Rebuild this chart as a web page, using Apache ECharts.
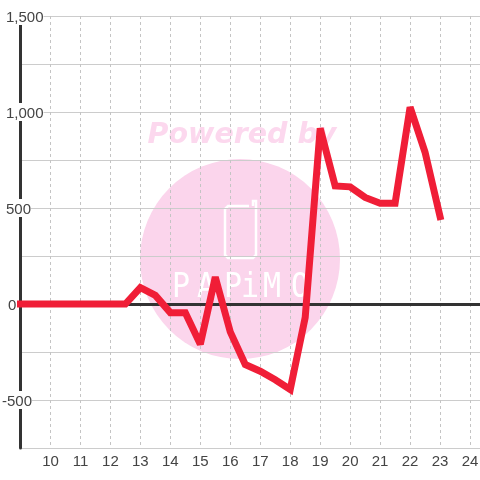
<!DOCTYPE html>
<html><head><meta charset="utf-8">
<style>html,body{margin:0;padding:0;background:#fff}#c{width:480px;height:480px}</style>
<script src="https://cdn.jsdelivr.net/npm/echarts@6/dist/echarts.min.js"></script>
</head><body><div id="c"></div>
<script>
const xValues=[9,9.5,10,10.5,11,11.5,12,12.5,13,13.5,14,14.5,15,15.5,16,16.5,17,17.5,18,18.5,19,19.5,20,20.5,21,21.5,22,22.5,23];
const yValues=[0,0,0,0,0,0,0,0,85,45,-45,-45,-210,140,-145,-315,-350,-395,-445,-70,915,615,610,555,525,525,1025,790,455];
const yTicks=[1500,1000,500,0,-500];
const watermarkTitle='Powered by';
const watermarkLetters=['P','A','P','i','M','O'];
const watermarkLetterX=[181,206,233,250,272,300];
const chart=echarts.init(document.getElementById('c'),null,{renderer:'canvas'});
const font='"Liberation Sans",Arial,sans-serif';
chart.setOption({
 animation:false,backgroundColor:'#fff',
 grid:{left:20.5,right:0,top:16,bottom:32,containLabel:false,outerBoundsMode:'none'},
 graphic:[
  {type:'circle',z:-10,silent:true,shape:{cx:240,cy:259,r:100},style:{fill:'#fbd5ec'}},
  {type:'text',z:-10,silent:true,x:242,y:136,style:{text:watermarkTitle,fill:'#fcd8ee',font:'italic bold 28.5px "DejaVu Sans"',align:'center',verticalAlign:'middle'}},
  {type:'polyline',z:-9,silent:true,shape:{points:[[249,206],[228,206],[225,209],[225,255],[228,258],[253,258],[256,255],[256,201],[253,201],[253,206]]},style:{fill:'none',stroke:'#fff',lineWidth:2.5}},
  ...watermarkLetters.map((c,i)=>({type:'text',z:-9,silent:true,x:watermarkLetterX[i],y:288,scaleY:1.12,style:{text:c,fill:'#fff',font:'30px "DejaVu Sans Mono"',align:'center',verticalAlign:'middle'}}))
 ],
 xAxis:{type:'value',min:9,max:24.3333,interval:1,
  axisLine:{show:false,onZero:false},axisTick:{show:false},
  axisLabel:{color:'#444',fontSize:15,fontFamily:font,margin:6,showMinLabel:false,showMaxLabel:true,
    formatter:v=>Number.isInteger(v)&&v>=10&&v<=24?String(v):''},
  splitLine:{show:true,lineStyle:{color:'#c4c4c4',type:[3,3],width:1}}},
 yAxis:{type:'value',min:-750,max:1500,interval:250,
  axisLine:{show:true,onZero:false,lineStyle:{color:'#333',width:3}},axisTick:{show:false},
  splitLine:{show:true,lineStyle:{color:'#ccc',width:1}},
  axisLabel:{inside:true,align:'left',margin:-18.5,color:'#444',fontSize:15,fontFamily:font,showMinLabel:true,showMaxLabel:true,
    formatter:v=>{ if(!yTicks.includes(v))return ''; const s=v.toLocaleString('en-US'); return v===-500?`{a|${s}}`:v===0?`{c|${s}}`:`{b|${s}}`;},
    rich:{a:{backgroundColor:'#fff',padding:[3,0,0,0],color:'#444',fontSize:15,fontFamily:font},
          b:{backgroundColor:'#fff',padding:[3,0,0,4],color:'#444',fontSize:15,fontFamily:font},
          c:{padding:[3,0,0,6],color:'#444',fontSize:15,fontFamily:font}}}},
 series:[{type:'line',data:xValues.map((x,i)=>[x,yValues[i]]),clip:false,z:5,showSymbol:false,symbol:'none',
  lineStyle:{color:'#f01e37',width:7,cap:'square',join:'miter',miterLimit:2},
  markLine:{silent:true,symbol:'none',z:1,animation:false,label:{show:false},lineStyle:{color:'#333',width:3,type:'solid'},data:[{yAxis:0}]}}]
});
</script></body></html>
